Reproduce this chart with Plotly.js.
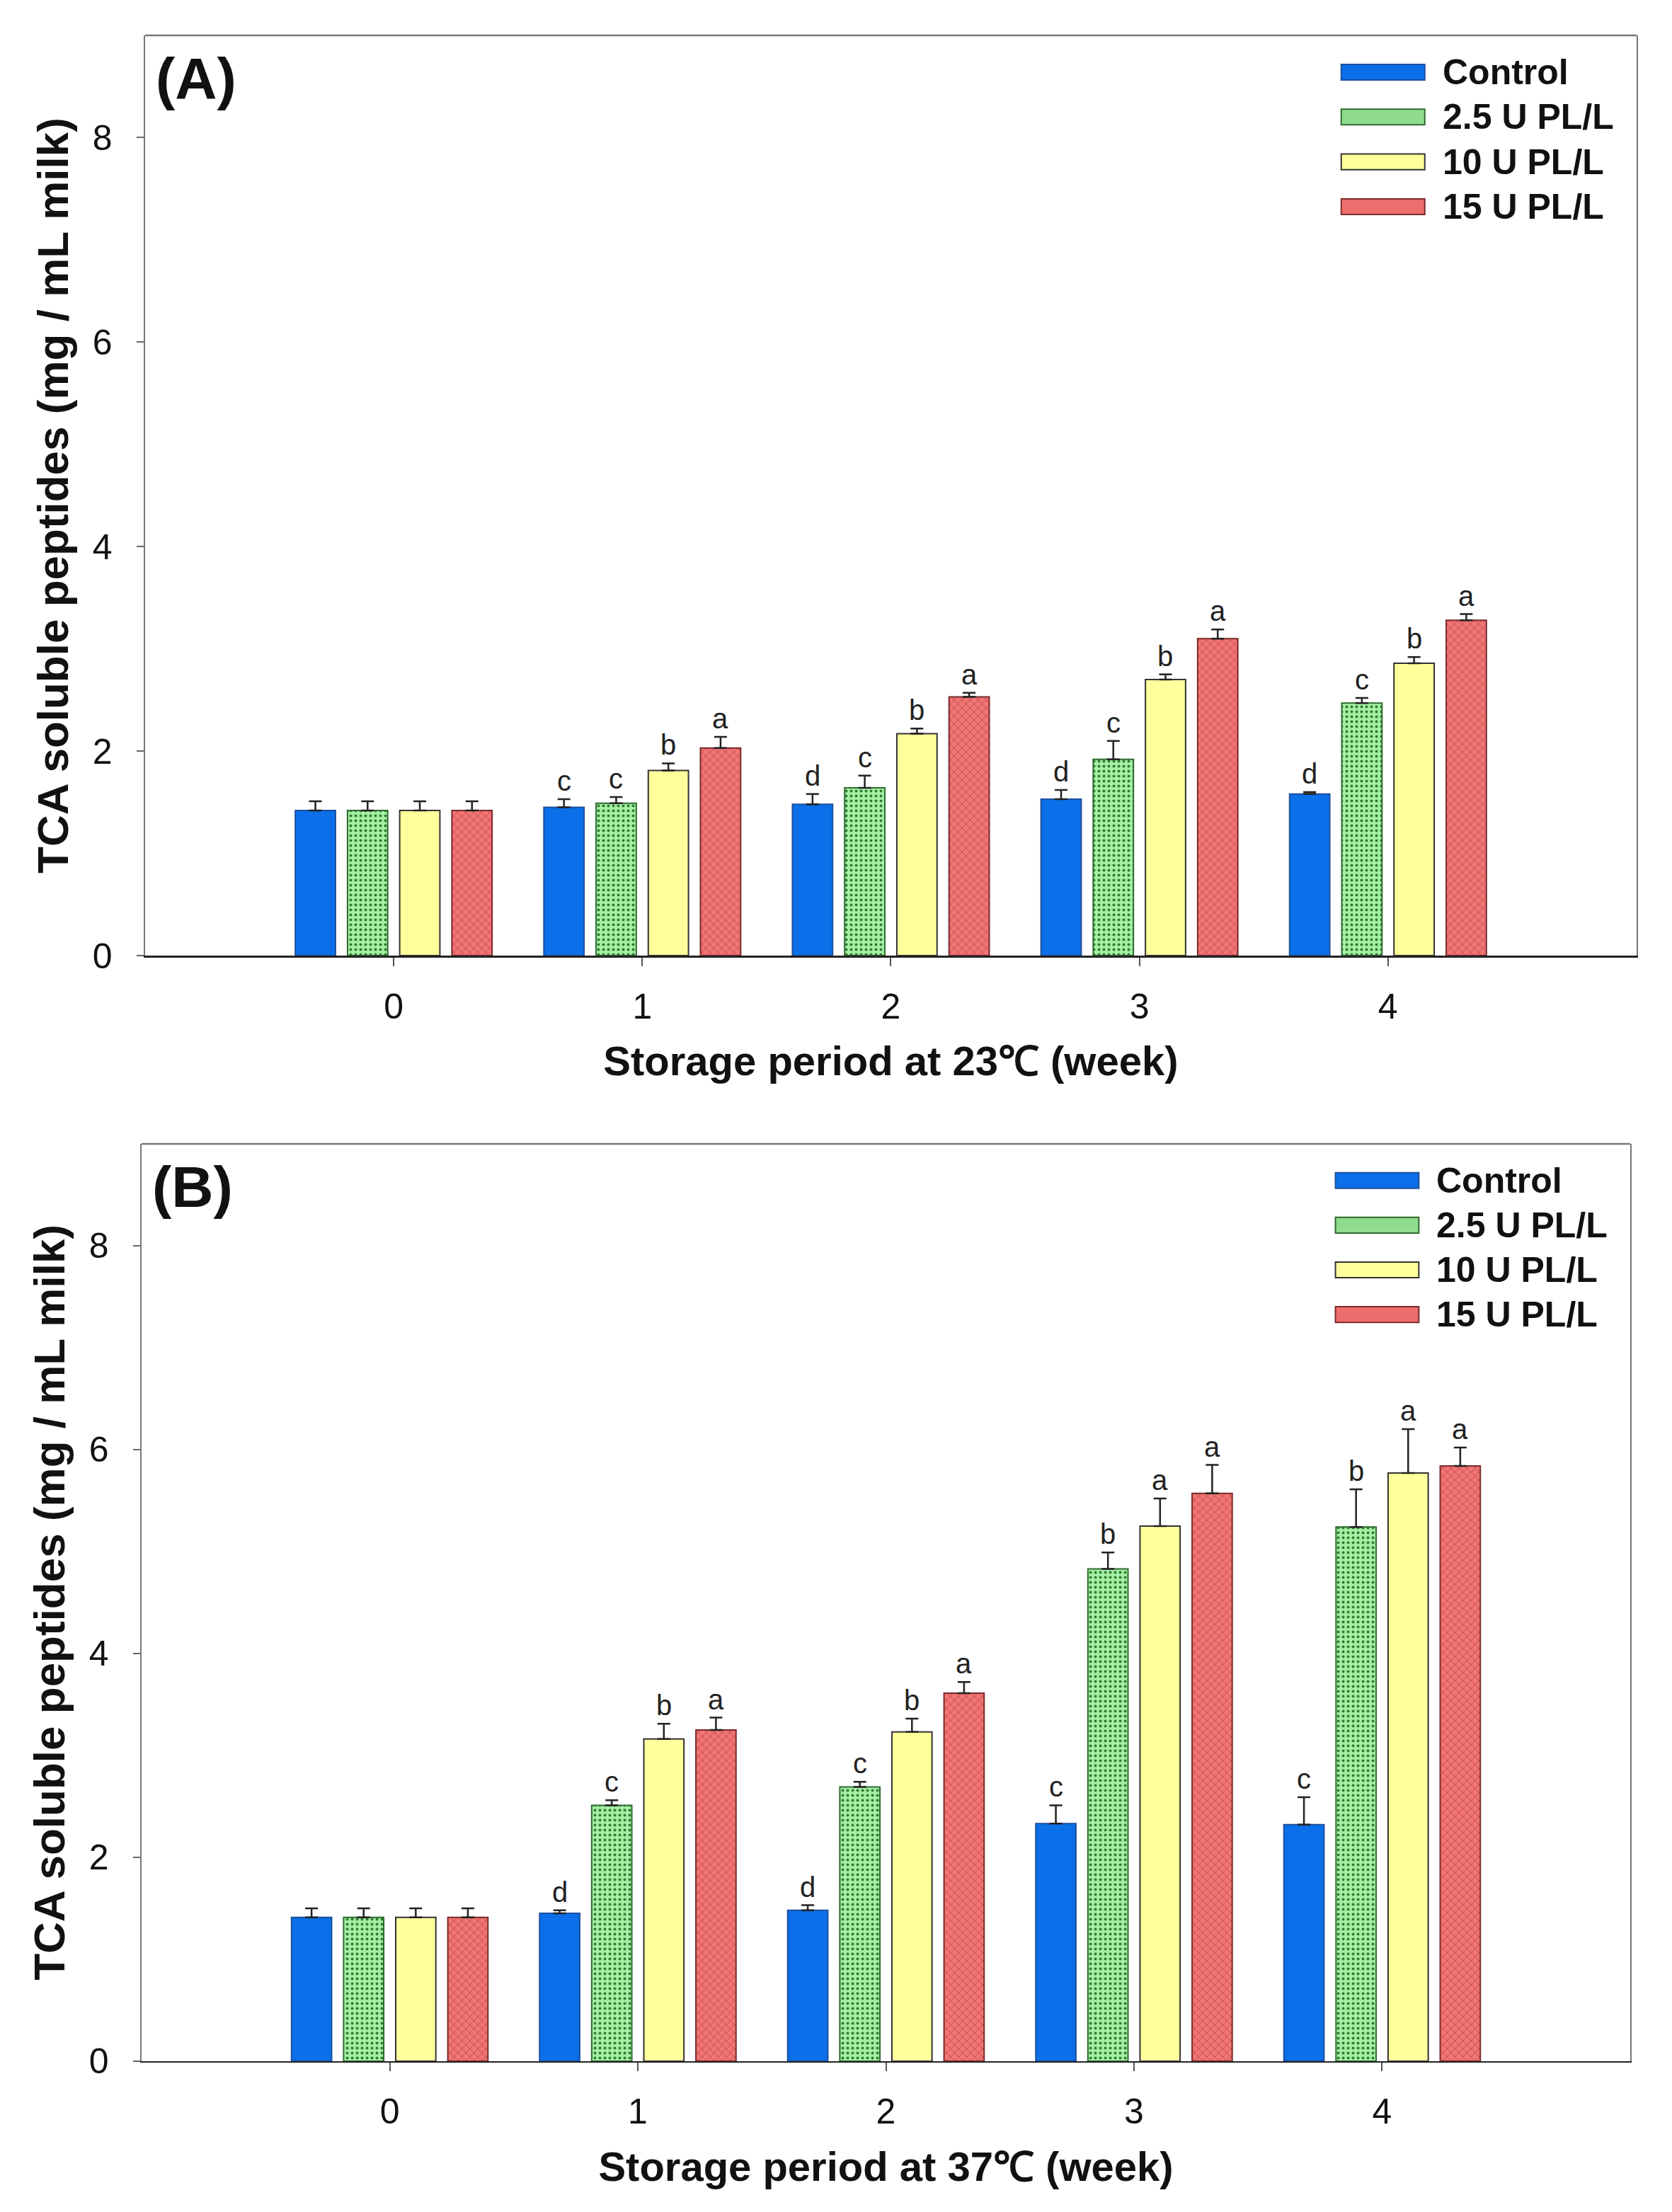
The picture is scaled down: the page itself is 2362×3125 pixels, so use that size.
<!DOCTYPE html>
<html><head><meta charset="utf-8">
<script src="https://cdn.plot.ly/plotly-3.0.1.min.js"></script>
<style>html,body{margin:0;padding:0;background:#fff;}</style>
</head><body><div id="chart" style="width:2362px;height:3125px;"></div>
<script>
// ---------- data ----------
const weeks = [0, 1, 2, 3, 4];
const weekLabels = ['0', '1', '2', '3', '4'];
const seriesNames = ['Control', '2.5 U PL/L', '10 U PL/L', '15 U PL/L'];
const yTickVals = [0, 2, 4, 6, 8];

// Panel A: 23 °C
const controlA = [1.42, 1.45, 1.48, 1.53, 1.58];
const controlAErr = [0.09, 0.08, 0.10, 0.09, 0.02];
const pl25A = [1.42, 1.49, 1.64, 1.92, 2.47];
const pl25AErr = [0.09, 0.06, 0.12, 0.18, 0.05];
const pl10A = [1.42, 1.81, 2.17, 2.70, 2.86];
const pl10AErr = [0.09, 0.07, 0.05, 0.05, 0.06];
const pl15A = [1.42, 2.03, 2.53, 3.10, 3.28];
const pl15AErr = [0.09, 0.11, 0.04, 0.09, 0.06];
const controlALetters = ['', 'c', 'd', 'd', 'd'];
const pl25ALetters = ['', 'c', 'c', 'c', 'c'];
const pl10ALetters = ['', 'b', 'b', 'b', 'b'];
const pl15ALetters = ['', 'a', 'a', 'a', 'a'];

// Panel B: 37 °C
const controlB = [1.41, 1.45, 1.48, 2.33, 2.32];
const controlBErr = [0.09, 0.03, 0.05, 0.18, 0.27];
const pl25B = [1.41, 2.51, 2.69, 4.83, 5.24];
const pl25BErr = [0.09, 0.05, 0.05, 0.16, 0.37];
const pl10B = [1.41, 3.16, 3.23, 5.25, 5.77];
const pl10BErr = [0.09, 0.15, 0.13, 0.27, 0.43];
const pl15B = [1.41, 3.25, 3.61, 5.57, 5.84];
const pl15BErr = [0.09, 0.12, 0.11, 0.28, 0.18];
const controlBLetters = ['', 'd', 'd', 'c', 'c'];
const pl25BLetters = ['', 'c', 'c', 'b', 'b'];
const pl10BLetters = ['', 'b', 'b', 'a', 'a'];
const pl15BLetters = ['', 'a', 'a', 'a', 'a'];

// ---------- styles ----------
const FONT = 'Liberation Sans, Arial, sans-serif';
const styles = [
  {color: '#0a6fe8', line: '#1d4f9c', pattern: null, swatch: '#0a6fe8'},
  {color: '#98e898', line: '#2f6a2f', pattern: {shape: '.', bgcolor: '#a4f0a4', fgcolor: '#2f7a2f', size: 7, solidity: 0.25}, swatch: '#8fdc8f'},
  {color: '#ffff9c', line: '#333333', pattern: null, swatch: '#ffff9c'},
  {color: '#f07070', line: '#7a2a2a', pattern: {shape: 'x', bgcolor: '#f27474', fgcolor: '#8a2a2a', size: 8, solidity: 0.12}, swatch: '#ee6e6e'}
];
const BARGAP = 0.16, BARGROUPGAP = 0.23;

const panels = [
  {xa: 'x', ya: 'y', vals: [controlA, pl25A, pl10A, pl15A], errs: [controlAErr, pl25AErr, pl10AErr, pl15AErr],
   letters: [controlALetters, pl25ALetters, pl10ALetters, pl15ALetters], label: '(A)', xtitle: 'Storage period at 23℃ (week)'},
  {xa: 'x2', ya: 'y2', vals: [controlB, pl25B, pl10B, pl15B], errs: [controlBErr, pl25BErr, pl10BErr, pl15BErr],
   letters: [controlBLetters, pl25BLetters, pl10BLetters, pl15BLetters], label: '(B)', xtitle: 'Storage period at 37℃ (week)'}
];

const traces = [];
const annotations = [];
const shapes = [];
const slot = (1 - BARGAP) / seriesNames.length;

panels.forEach((p, pi) => {
  const xd = p.xa === 'x' ? 'x domain' : 'x2 domain';
  const yd = p.ya === 'y' ? 'y domain' : 'y2 domain';
  seriesNames.forEach((name, si) => {
    const st = styles[si];
    const marker = {color: st.color, line: {color: st.line, width: 2}};
    if (st.pattern) marker.pattern = Object.assign({fillmode: 'replace'}, st.pattern);
    traces.push({
      type: 'bar', name: name, x: weeks, y: p.vals[si], xaxis: p.xa, yaxis: p.ya,
      marker: marker, showlegend: false, offsetgroup: String(si),
      error_y: {type: 'data', symmetric: false, array: p.errs[si], arrayminus: p.errs[si].map(() => 0),
                color: '#222', thickness: 2.5, width: 9}
    });
    // significance letters
    weeks.forEach((w, wi) => {
      const t = p.letters[si][wi];
      if (!t) return;
      annotations.push({
        xref: p.xa, yref: p.ya, x: w + (si - 1.5) * slot, y: p.vals[si][wi] + p.errs[si][wi],
        text: t, showarrow: false, xanchor: 'center', yanchor: 'bottom', yshift: 2,
        font: {family: FONT, size: 40, color: '#222'}
      });
    });
    // legend entries
    const rowY = 0.96 - si * 0.0487;
    shapes.push({type: 'rect', xref: xd, yref: yd, x0: 0.802, x1: 0.858, y0: rowY - 0.0085, y1: rowY + 0.0085,
                 fillcolor: st.swatch, line: {color: st.line, width: 2}});
    annotations.push({xref: xd, yref: yd, x: 0.869, y: rowY, text: name, showarrow: false,
                      xanchor: 'left', yanchor: 'middle', font: {family: FONT, size: 50, color: '#111', weight: 'bold'}});
  });
  // panel label
  annotations.push({xref: xd, yref: yd, x: 0.006, y: 0.99, text: '<b>' + p.label + '</b>', showarrow: false,
                    xanchor: 'left', yanchor: 'top', font: {family: FONT, size: 82, color: '#111'}});
  // top frame line
  shapes.push({type: 'line', xref: xd, yref: yd, x0: 0, x1: 1, y0: 1, y1: 1, line: {color: '#777', width: 2.5}});
});

function xaxisDef(domain, anchor, title) {
  return {domain: domain, anchor: anchor, range: [-1, 5], tickvals: weeks, ticktext: weekLabels,
          ticks: 'outside', ticklen: 12, tickwidth: 2, tickcolor: '#555', ticklabelstandoff: 14,
          showline: true, linecolor: '#222', linewidth: 2.5, mirror: false, showgrid: false, zeroline: false,
          tickfont: {family: FONT, size: 50, color: '#111'},
          title: {text: title, standoff: 30, font: {family: FONT, size: 58, color: '#111', weight: 'bold'}}};
}
function yaxisDef(domain, anchor) {
  return {domain: domain, anchor: anchor, range: [0, 9], tickvals: yTickVals, ticks: 'outside', ticklen: 10,
          tickwidth: 2, tickcolor: '#666', ticklabelstandoff: 24,
          showline: true, linecolor: '#777', linewidth: 2.5, mirror: true, showgrid: false, zeroline: false,
          tickfont: {family: FONT, size: 50, color: '#111'},
          title: {text: 'TCA soluble peptides (mg / mL milk)', standoff: 14,
                  font: {family: FONT, size: 62, color: '#111', weight: 'bold'}}};
}

const layout = {
  width: 2362, height: 3125, margin: {l: 0, r: 0, t: 0, b: 0},
  paper_bgcolor: '#fff', plot_bgcolor: '#fff',
  barmode: 'group', bargap: BARGAP, bargroupgap: BARGROUPGAP,
  showlegend: false,
  xaxis: xaxisDef([0.0868, 0.9788], 'y', panels[0].xtitle),
  yaxis: yaxisDef([0.568, 0.984], 'x'),
  xaxis2: xaxisDef([0.0847, 0.975], 'y2', panels[1].xtitle),
  yaxis2: yaxisDef([0.0682, 0.4829], 'x2'),
  annotations: annotations, shapes: shapes
};

Plotly.newPlot('chart', traces, layout, {displayModeBar: false, staticPlot: true});
</script></body></html>
